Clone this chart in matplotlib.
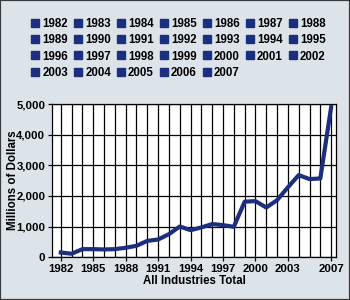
import matplotlib
matplotlib.use("Agg")
import matplotlib.pyplot as plt
from matplotlib.lines import Line2D
from matplotlib.patches import Rectangle
from matplotlib.ticker import FuncFormatter, FixedLocator

# DATA ---------------------------------------------------------------
years = list(range(1982, 2008))
totals = [150, 110, 260, 260, 250, 260, 305, 370, 530, 575, 750, 1000, 880,
          970, 1080, 1045, 990, 1810, 1830, 1620, 1860, 2280, 2680, 2550,
          2570, 4900]
tick_years = [1982, 1985, 1988, 1991, 1994, 1997, 2000, 2003, 2007]
y_ticks = [0, 1000, 2000, 3000, 4000, 5000]

navy = "#1c2f7e"
bg = "#dce3e9"

plt.rcParams['font.family'] = ['Liberation Sans', 'DejaVu Sans']
plt.rcParams['font.weight'] = 'bold'

fig = plt.figure(figsize=(3.5, 3.0), dpi=100)
fig.patch.set_facecolor(bg)
fig.patches.append(Rectangle((0, 0), 1, 1, transform=fig.transFigure,
                             fill=False, edgecolor="#3a3a3a", linewidth=1.6))

ax = fig.add_axes([0.149, 0.143, 0.811, 0.51])
ax.set_facecolor("white")
ax.plot(years, totals, color=navy, linewidth=3.0, solid_joinstyle='round', zorder=3)

ax.set_xlim(1981.2, 2007.45)
ax.set_ylim(0, 5000)
ax.xaxis.set_major_locator(FixedLocator(tick_years))
ax.xaxis.set_minor_locator(FixedLocator(years))
ax.yaxis.set_major_locator(FixedLocator(y_ticks))
ax.yaxis.set_major_formatter(FuncFormatter(lambda v, p: "{:,.0f}".format(v)))
ax.grid(which='both', axis='x', color='black', linewidth=0.9)
ax.grid(which='major', axis='y', color='black', linewidth=0.9)
ax.tick_params(which='minor', length=0)
ax.tick_params(which='major', length=3, width=0.9, labelsize=8.2, pad=2)
for s in ax.spines.values():
    s.set_linewidth(0.9)

ax.set_xlabel("All Industries Total", fontsize=8.3, fontweight='bold', labelpad=1)
ax.set_ylabel("Millions of Dollars", fontsize=8.3, fontweight='bold')
ax.yaxis.set_label_coords(-0.118, 0.5)

# legend, filled row by row
ncol = 7
handles = [Line2D([], [], linestyle='none', marker='s', markersize=5.2,
                  markerfacecolor=navy, markeredgecolor=navy) for y in years]
order = []
for c in range(ncol):
    for r in range(4):
        i = r * ncol + c
        if i < len(years):
            order.append(i)
leg = fig.legend([handles[i] for i in order], [str(years[i]) for i in order],
                 ncol=ncol, loc='upper left', bbox_to_anchor=(0.075, 0.96),
                 frameon=False, fontsize=8.3, handlelength=0.6, handletextpad=0.3,
                 columnspacing=0.58, labelspacing=0.38, borderpad=0)

fig.savefig("out.png", dpi=100, facecolor=bg)
